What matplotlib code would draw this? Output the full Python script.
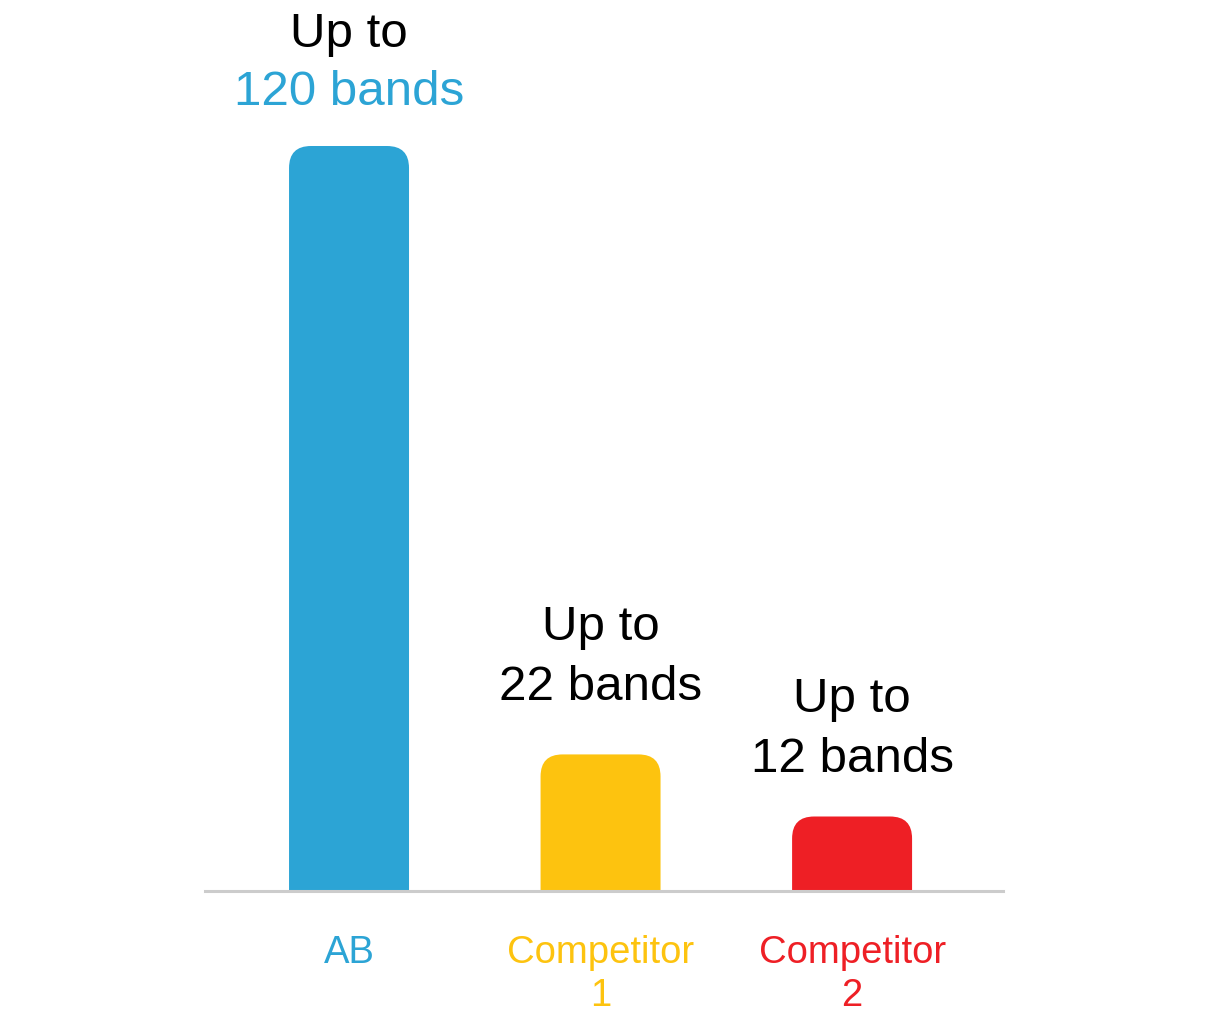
import matplotlib
matplotlib.use('Agg')
from matplotlib import pyplot as plt
from matplotlib.patches import PathPatch
from matplotlib.path import Path

plt.rcParams['font.family'] = ['Liberation Sans', 'DejaVu Sans']

categories = ['AB', 'Competitor\n1', 'Competitor\n2']
bands = [120, 22, 12]
value_labels = ['120 bands', '22 bands', '12 bands']
colors = ['#2ca4d5', '#fdc30f', '#ee1f25']
value_label_colors = ['#2ca4d5', 'black', 'black']
# label lift above bar top in pixels (value line, "Up to" line)
label_lift = [(41, 99), (54, 114), (44, 105)]

fig = plt.figure(figsize=(12.08, 10.19), dpi=100)
ax = fig.add_axes([205 / 1208, 128 / 1019, 798 / 1208, 745 / 1019])

x = list(range(len(categories)))
bars = ax.bar(x, bands, width=0.477, color=colors)
ax.set_xlim(-0.5726, 2.600)
ax.set_ylim(0, 120)

# swap plain bars for ones with rounded top corners
fig.canvas.draw()
p0 = ax.transData.transform((0, 0))
p1 = ax.transData.transform((1, 1))
rx = 22 / (p1[0] - p0[0])
ry = 22 / (p1[1] - p0[1])
for rect, c in zip(bars, colors):
    x0, w, h = rect.get_x(), rect.get_width(), rect.get_height()
    x1 = x0 + w
    rect.set_visible(False)
    verts = [(x0, 0), (x0, h - ry), (x0, h), (x0 + rx, h), (x1 - rx, h),
             (x1, h), (x1, h - ry), (x1, 0), (x0, 0)]
    codes = [Path.MOVETO, Path.LINETO, Path.CURVE3, Path.CURVE3, Path.LINETO,
             Path.CURVE3, Path.CURVE3, Path.LINETO, Path.CLOSEPOLY]
    ax.add_patch(PathPatch(Path(verts, codes), facecolor=c, edgecolor='none'))

for xi, v, lab, lc, (d1, d2) in zip(x, bands, value_labels, value_label_colors, label_lift):
    ax.annotate(lab, (xi, v), xytext=(0, d1), textcoords='offset pixels',
                ha='center', va='baseline', fontsize=35.5, color=lc)
    ax.annotate('Up to', (xi, v), xytext=(0, d2), textcoords='offset pixels',
                ha='center', va='baseline', fontsize=35.5, color='black')

ax.set_xticks(x)
ax.set_xticklabels(categories, fontsize=27.5, linespacing=1.25)
for t, c in zip(ax.get_xticklabels(), colors):
    t.set_color(c)
ax.tick_params(axis='x', length=0, pad=32)
ax.set_yticks([])
for s in ['top', 'right', 'left']:
    ax.spines[s].set_visible(False)
ax.spines['bottom'].set_color('#cccccc')
ax.spines['bottom'].set_linewidth(2.2)
ax.spines['bottom'].set_zorder(3)

plt.savefig('out.png', dpi=100)
